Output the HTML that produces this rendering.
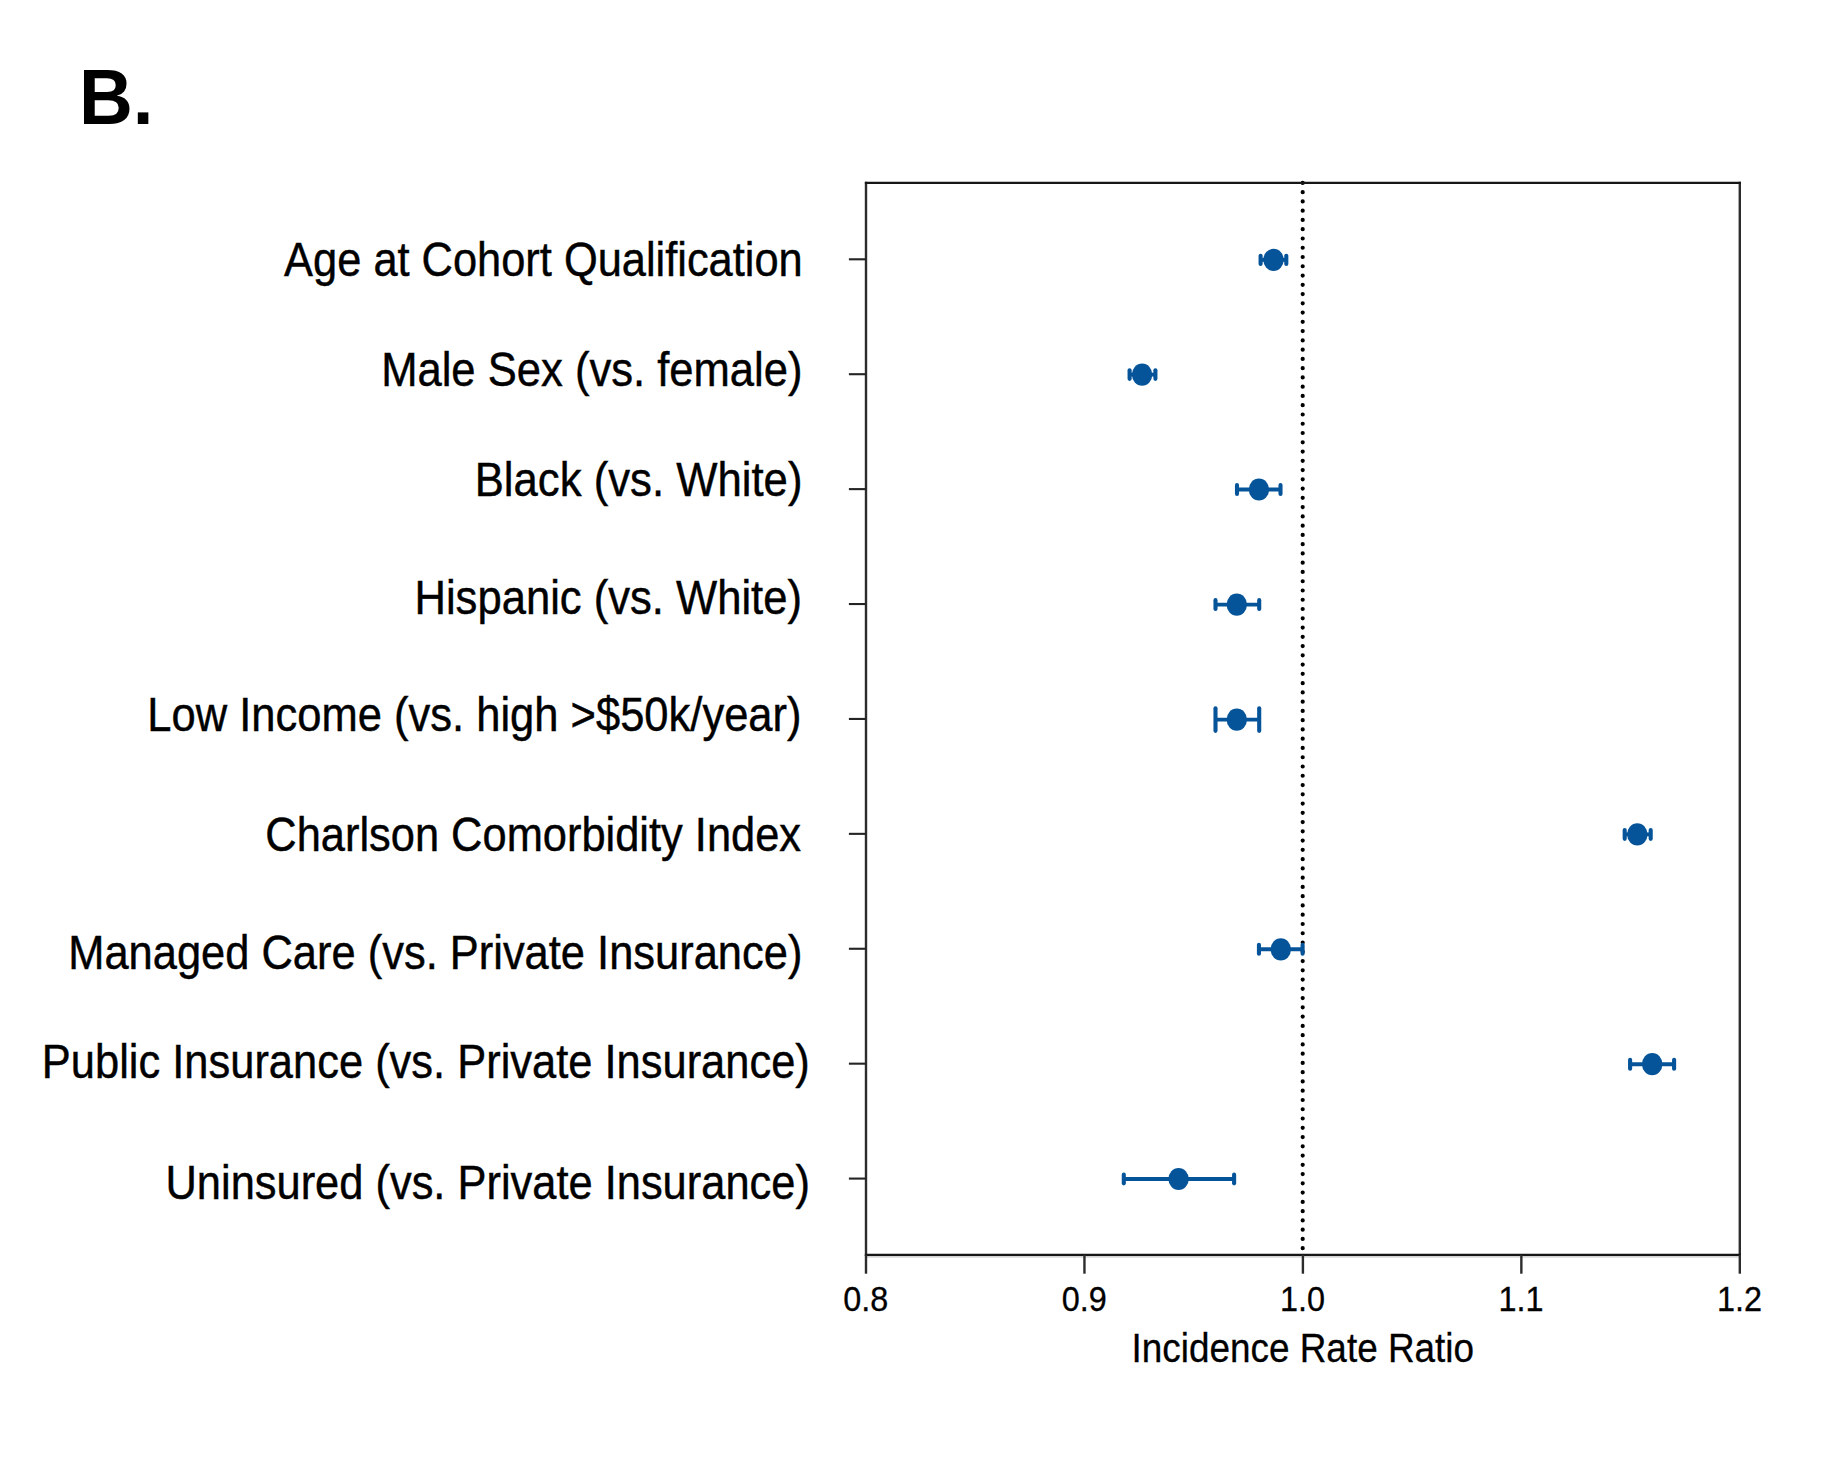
<!DOCTYPE html>
<html lang="en"><head><meta charset="utf-8"><title>Figure B - Incidence Rate Ratio</title>
<style>html,body{margin:0;padding:0;background:#fff}body{width:1834px;height:1466px;overflow:hidden}svg{display:block}text{font-family:"Liberation Sans",Arial,Helvetica,sans-serif;fill:#000}</style></head><body>
<svg width="1834" height="1466" viewBox="0 0 1834 1466">
<rect width="1834" height="1466" fill="#fff"/>
<text transform="translate(78.9,123.7) scale(0.953,1)" font-size="78.3" font-weight="bold">B.</text>
<text transform="translate(802.69,275.55) scale(0.8930,1)" font-size="48.60" text-anchor="end" stroke="#000" stroke-width="0.45">Age at Cohort Qualification</text>
<text transform="translate(802.55,385.50) scale(0.8968,1)" font-size="48.60" text-anchor="end" stroke="#000" stroke-width="0.45">Male Sex (vs. female)</text>
<text transform="translate(802.46,495.50) scale(0.8993,1)" font-size="48.60" text-anchor="end" stroke="#000" stroke-width="0.45">Black (vs. White)</text>
<text transform="translate(801.99,614.40) scale(0.8972,1)" font-size="48.60" text-anchor="end" stroke="#000" stroke-width="0.45">Hispanic (vs. White)</text>
<text transform="translate(801.56,731.10) scale(0.8955,1)" font-size="48.60" text-anchor="end" stroke="#000" stroke-width="0.45">Low Income (vs. high &gt;$50k/year)</text>
<text transform="translate(801.06,851.00) scale(0.8936,1)" font-size="48.60" text-anchor="end" stroke="#000" stroke-width="0.45">Charlson Comorbidity Index</text>
<text transform="translate(802.41,968.50) scale(0.8943,1)" font-size="48.60" text-anchor="end" stroke="#000" stroke-width="0.45">Managed Care (vs. Private Insurance)</text>
<text transform="translate(809.82,1077.80) scale(0.8942,1)" font-size="48.60" text-anchor="end" stroke="#000" stroke-width="0.45">Public Insurance (vs. Private Insurance)</text>
<text transform="translate(809.86,1198.70) scale(0.8937,1)" font-size="48.60" text-anchor="end" stroke="#000" stroke-width="0.45">Uninsured (vs. Private Insurance)</text>
<line x1="867.00" y1="1256.9" x2="1738.80" y2="1256.9" stroke="#c6c6c6" stroke-width="1.4"/>
<line x1="1302.7" y1="182.90" x2="1302.7" y2="1249" stroke="#000" stroke-width="4.2" stroke-linecap="round" stroke-dasharray="0 9.2635"/>
<line x1="866.00" y1="181.80" x2="866.00" y2="1256.00" stroke="#2c2c2c" stroke-width="2.4"/>
<line x1="1739.80" y1="181.80" x2="1739.80" y2="1256.00" stroke="#2c2c2c" stroke-width="2.4"/>
<line x1="864.90" y1="182.90" x2="1740.90" y2="182.90" stroke="#161616" stroke-width="2.3"/>
<line x1="864.90" y1="1254.90" x2="1740.90" y2="1254.90" stroke="#161616" stroke-width="2.3"/>
<line x1="848.9" y1="259.30" x2="866.00" y2="259.30" stroke="#242424" stroke-width="2.1"/>
<line x1="848.9" y1="374.21" x2="866.00" y2="374.21" stroke="#242424" stroke-width="2.1"/>
<line x1="848.9" y1="489.12" x2="866.00" y2="489.12" stroke="#242424" stroke-width="2.1"/>
<line x1="848.9" y1="604.03" x2="866.00" y2="604.03" stroke="#242424" stroke-width="2.1"/>
<line x1="848.9" y1="718.94" x2="866.00" y2="718.94" stroke="#242424" stroke-width="2.1"/>
<line x1="848.9" y1="833.85" x2="866.00" y2="833.85" stroke="#242424" stroke-width="2.1"/>
<line x1="848.9" y1="948.76" x2="866.00" y2="948.76" stroke="#242424" stroke-width="2.1"/>
<line x1="848.9" y1="1063.67" x2="866.00" y2="1063.67" stroke="#242424" stroke-width="2.1"/>
<line x1="848.9" y1="1178.58" x2="866.00" y2="1178.58" stroke="#242424" stroke-width="2.1"/>
<line x1="866.00" y1="1254.90" x2="866.00" y2="1273.7" stroke="#2c2c2c" stroke-width="2.4"/>
<text transform="translate(865.70,1310.6) scale(0.926,1)" font-size="35" text-anchor="middle" stroke="#000" stroke-width="0.3">0.8</text>
<line x1="1084.45" y1="1254.90" x2="1084.45" y2="1273.7" stroke="#2c2c2c" stroke-width="2.4"/>
<text transform="translate(1084.15,1310.6) scale(0.926,1)" font-size="35" text-anchor="middle" stroke="#000" stroke-width="0.3">0.9</text>
<line x1="1302.90" y1="1254.90" x2="1302.90" y2="1273.7" stroke="#2c2c2c" stroke-width="2.4"/>
<text transform="translate(1302.60,1310.6) scale(0.926,1)" font-size="35" text-anchor="middle" stroke="#000" stroke-width="0.3">1.0</text>
<line x1="1521.35" y1="1254.90" x2="1521.35" y2="1273.7" stroke="#2c2c2c" stroke-width="2.4"/>
<text transform="translate(1521.05,1310.6) scale(0.926,1)" font-size="35" text-anchor="middle" stroke="#000" stroke-width="0.3">1.1</text>
<line x1="1739.80" y1="1254.90" x2="1739.80" y2="1273.7" stroke="#2c2c2c" stroke-width="2.4"/>
<text transform="translate(1739.50,1310.6) scale(0.926,1)" font-size="35" text-anchor="middle" stroke="#000" stroke-width="0.3">1.2</text>
<text transform="translate(1302.8,1362.2) scale(0.9225,1)" font-size="40" text-anchor="middle" stroke="#000" stroke-width="0.3">Incidence Rate Ratio</text>
<g stroke="#05549a" stroke-width="4.1" stroke-linecap="round" fill="#05549a">
<line x1="1260.60" y1="259.90" x2="1286.30" y2="259.90" stroke-linecap="butt" stroke-width="3.9"/>
<line x1="1260.60" y1="255.75" x2="1260.60" y2="264.05"/>
<line x1="1286.30" y1="255.75" x2="1286.30" y2="264.05"/>
<ellipse cx="1273.50" cy="259.90" rx="10.2" ry="11.1" stroke="none"/>
</g>
<g stroke="#05549a" stroke-width="4.1" stroke-linecap="round" fill="#05549a">
<line x1="1129.60" y1="374.60" x2="1155.40" y2="374.60" stroke-linecap="butt" stroke-width="3.9"/>
<line x1="1129.60" y1="370.35" x2="1129.60" y2="378.85"/>
<line x1="1155.40" y1="370.35" x2="1155.40" y2="378.85"/>
<ellipse cx="1142.10" cy="374.60" rx="10.2" ry="11.1" stroke="none"/>
</g>
<g stroke="#05549a" stroke-width="4.1" stroke-linecap="round" fill="#05549a">
<line x1="1237.00" y1="489.50" x2="1280.50" y2="489.50" stroke-linecap="butt" stroke-width="3.9"/>
<line x1="1237.00" y1="485.05" x2="1237.00" y2="493.95"/>
<line x1="1280.50" y1="485.05" x2="1280.50" y2="493.95"/>
<ellipse cx="1258.95" cy="489.50" rx="10.2" ry="11.1" stroke="none"/>
</g>
<g stroke="#05549a" stroke-width="4.1" stroke-linecap="round" fill="#05549a">
<line x1="1215.50" y1="604.60" x2="1259.20" y2="604.60" stroke-linecap="butt" stroke-width="3.9"/>
<line x1="1215.50" y1="600.15" x2="1215.50" y2="609.05"/>
<line x1="1259.20" y1="600.15" x2="1259.20" y2="609.05"/>
<ellipse cx="1236.80" cy="604.60" rx="10.2" ry="11.1" stroke="none"/>
</g>
<g stroke="#05549a" stroke-width="4.1" stroke-linecap="round" fill="#05549a">
<line x1="1215.50" y1="719.60" x2="1259.20" y2="719.60" stroke-linecap="butt" stroke-width="3.9"/>
<line x1="1215.50" y1="708.35" x2="1215.50" y2="730.85"/>
<line x1="1259.20" y1="708.35" x2="1259.20" y2="730.85"/>
<ellipse cx="1236.80" cy="719.60" rx="10.2" ry="11.1" stroke="none"/>
</g>
<g stroke="#05549a" stroke-width="4.1" stroke-linecap="round" fill="#05549a">
<line x1="1624.70" y1="834.40" x2="1650.70" y2="834.40" stroke-linecap="butt" stroke-width="3.9"/>
<line x1="1624.70" y1="829.95" x2="1624.70" y2="838.85"/>
<line x1="1650.70" y1="829.95" x2="1650.70" y2="838.85"/>
<ellipse cx="1637.30" cy="834.40" rx="10.2" ry="11.1" stroke="none"/>
</g>
<g stroke="#05549a" stroke-width="4.1" stroke-linecap="round" fill="#05549a">
<line x1="1258.95" y1="949.30" x2="1302.60" y2="949.30" stroke-linecap="butt" stroke-width="3.9"/>
<line x1="1258.95" y1="944.85" x2="1258.95" y2="953.75"/>
<line x1="1302.60" y1="944.85" x2="1302.60" y2="953.75"/>
<ellipse cx="1280.80" cy="949.30" rx="10.2" ry="11.1" stroke="none"/>
</g>
<g stroke="#05549a" stroke-width="4.1" stroke-linecap="round" fill="#05549a">
<line x1="1630.10" y1="1064.20" x2="1674.10" y2="1064.20" stroke-linecap="butt" stroke-width="3.9"/>
<line x1="1630.10" y1="1059.75" x2="1630.10" y2="1068.65"/>
<line x1="1674.10" y1="1059.75" x2="1674.10" y2="1068.65"/>
<ellipse cx="1652.20" cy="1064.20" rx="10.2" ry="11.1" stroke="none"/>
</g>
<g stroke="#05549a" stroke-width="4.1" stroke-linecap="round" fill="#05549a">
<line x1="1123.80" y1="1179.00" x2="1234.10" y2="1179.00" stroke-linecap="butt" stroke-width="3.9"/>
<line x1="1123.80" y1="1174.65" x2="1123.80" y2="1183.35"/>
<line x1="1234.10" y1="1174.65" x2="1234.10" y2="1183.35"/>
<ellipse cx="1178.60" cy="1179.00" rx="10.2" ry="11.1" stroke="none"/>
</g>
</svg></body></html>
